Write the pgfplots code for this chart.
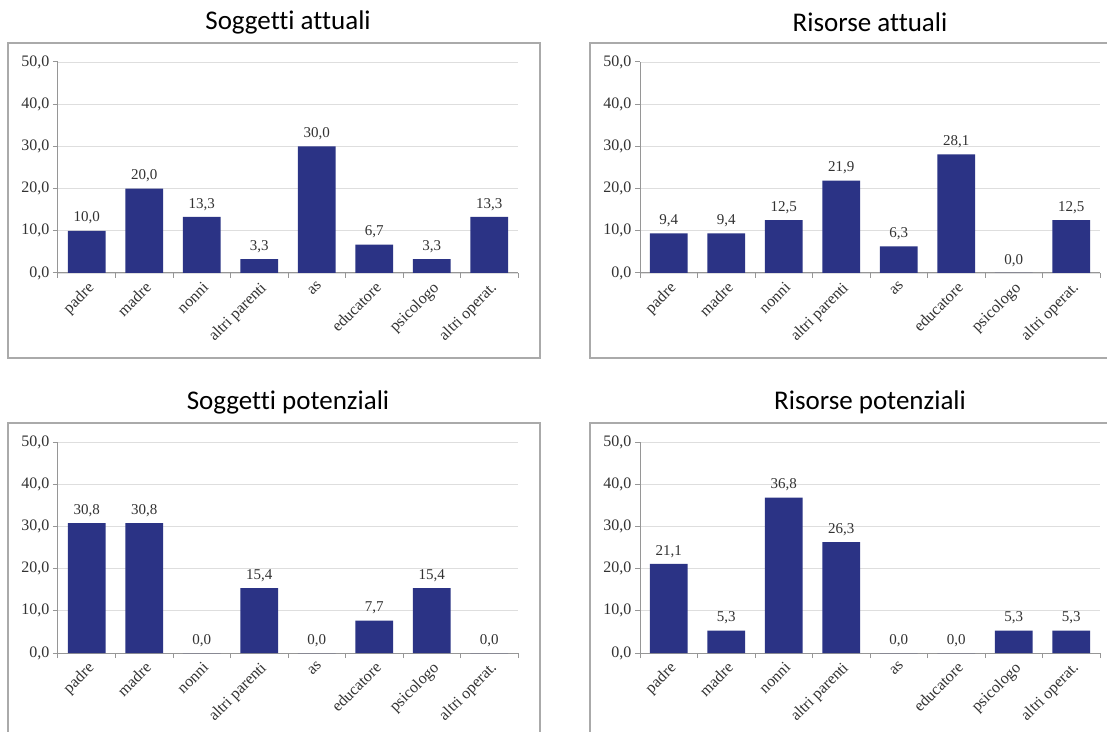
\documentclass[border=0pt]{standalone}
\usepackage{pgfplots}
\pgfplotsset{compat=1.18}
\usepackage{fontspec}
\setmainfont{Liberation Serif}
\newfontfamily\titlefont[Ligatures=NoCommon]{Carlito}
\definecolor{barblue}{RGB}{43,51,133}
\definecolor{framegray}{RGB}{170,170,170}
\definecolor{gridgray}{RGB}{222,222,222}
\definecolor{axisgray}{RGB}{150,150,150}
\definecolor{labgray}{RGB}{50,50,50}

\pgfplotsset{
  panel/.style={
    scale only axis, width=460pt, height=211pt,
    xmin=-0.5, xmax=7.5, ymin=0, ymax=50,
    ytick={0,10,...,50},
    axis x line=bottom, axis y line=left,
    axis line style={draw=axisgray, line width=1pt, -},
    ymajorgrids, grid style={gridgray, line width=0.8pt},
    xtick={0,...,7},
    xticklabels={padre,madre,nonni,altri parenti,as,educatore,psicologo,altri operat.},
    major x tick style={draw=none},
    minor xtick={-0.5,0.5,...,7.5},
    tick align=outside,
    major tick length=5pt, minor tick length=5pt,
    tick style={axisgray, line width=1pt},
    xticklabel style={rotate=45, anchor=north east, font=\fontsize{16}{16}\selectfont, inner sep=2pt, text=labgray},
    yticklabel style={font=\fontsize{16}{16}\selectfont, text=labgray},
    /pgf/number format/.cd, fixed, fixed zerofill, precision=1, use comma, assume math mode=true,
    /pgfplots/.cd,
    ybar, bar width=0.66,
    nodes near coords,
    nodes near coords style={font=\fontsize{15}{15}\selectfont, anchor=south, yshift=3pt, text=labgray},
    title style={font=\titlefont\fontsize{27}{27}\selectfont, at={(0.5,1)}, anchor=center, yshift=34pt},
  }
}

\begin{document}
\begin{tikzpicture}
\clip (0,0) rectangle (1107pt,731pt);
\fill[white] (0,0) rectangle (1107pt,731pt);
\draw[framegray, line width=1.5pt] (8pt,373pt) rectangle (540pt,688pt);
\draw[framegray, line width=1.5pt] (590pt,373pt) rectangle (1120pt,688pt);
\draw[framegray, line width=1.5pt] (8pt,-20pt) rectangle (540pt,308pt);
\draw[framegray, line width=1.5pt] (590pt,-20pt) rectangle (1120pt,308pt);

\begin{axis}[panel, at={(58pt,458pt)}, anchor=south west, title={Soggetti attuali}]
\addplot[fill=barblue, draw=none] coordinates {(0,10.0) (1,20.0) (2,13.3) (3,3.3) (4,30.0) (5,6.7) (6,3.3) (7,13.3)};
\end{axis}

\begin{axis}[panel, at={(640pt,458pt)}, anchor=south west, title={Risorse attuali}]
\addplot[fill=barblue, draw=none] coordinates {(0,9.4) (1,9.4) (2,12.5) (3,21.9) (4,6.3) (5,28.1) (6,0.0) (7,12.5)};
\end{axis}

\begin{axis}[panel, at={(58pt,78pt)}, anchor=south west, title={Soggetti potenziali}]
\addplot[fill=barblue, draw=none] coordinates {(0,30.8) (1,30.8) (2,0.0) (3,15.4) (4,0.0) (5,7.7) (6,15.4) (7,0.0)};
\end{axis}

\begin{axis}[panel, at={(640pt,78pt)}, anchor=south west, title={Risorse potenziali}]
\addplot[fill=barblue, draw=none] coordinates {(0,21.1) (1,5.3) (2,36.8) (3,26.3) (4,0.0) (5,0.0) (6,5.3) (7,5.3)};
\end{axis}
\end{tikzpicture}
\end{document}
